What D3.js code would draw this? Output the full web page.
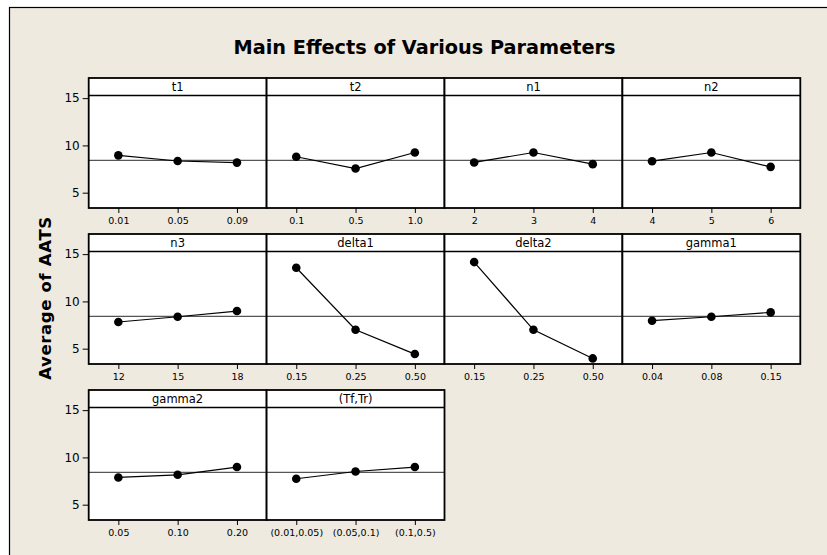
<!DOCTYPE html>
<html>
<head>
<meta charset="utf-8">
<script src="https://cdn.jsdelivr.net/npm/d3@7"></script>
<style>
  html, body { margin: 0; padding: 0; background: #fff; }
  svg { display: block; }
</style>
</head>
<body>
<div id="chart"></div>
<script>
// ---- data ----
const factors = ['t1', 't2', 'n1', 'n2', 'n3', 'delta1', 'delta2', 'gamma1', 'gamma2', '(Tf,Tr)'];

const levels = [
  ['0.01', '0.05', '0.09'],
  ['0.1', '0.5', '1.0'],
  ['2', '3', '4'],
  ['4', '5', '6'],
  ['12', '15', '18'],
  ['0.15', '0.25', '0.50'],
  ['0.15', '0.25', '0.50'],
  ['0.04', '0.08', '0.15'],
  ['0.05', '0.10', '0.20'],
  ['(0.01,0.05)', '(0.05,0.1)', '(0.1,0.5)']
];

const means = [
  [8.95, 8.35, 8.18],
  [8.80, 7.55, 9.25],
  [8.20, 9.25, 8.02],
  [8.33, 9.25, 7.73],
  [7.82, 8.38, 8.98],
  [13.56, 7.00, 4.43],
  [14.16, 7.00, 3.97],
  [7.96, 8.38, 8.84],
  [7.88, 8.16, 8.98],
  [7.74, 8.51, 8.98]
];

const grandMean = 8.42;
const yTicks = [5, 10, 15];

// ---- layout ----
const width = 827, height = 555;
const cols = 4;
const panelW = 177.9, panelH = 130, stripH = 17.5;
const left0 = 88.7, rowTops = [78, 234, 390];
const font = 'DejaVu Sans, Verdana, sans-serif';

const svg = d3.select('#chart')
  .append('svg')
  .attr('width', width)
  .attr('height', height);

// background frame
svg.append('rect')
  .attr('x', 9.5).attr('y', 7.5)
  .attr('width', width).attr('height', height)
  .attr('fill', '#EEEAE0')
  .attr('stroke', '#000')
  .attr('stroke-width', 1.2);

// title
svg.append('text')
  .attr('x', 424.5)
  .attr('y', 54)
  .attr('text-anchor', 'middle')
  .attr('font-family', font)
  .attr('font-weight', 'bold')
  .attr('font-size', 19.3)
  .attr('fill', '#000')
  .text('Main Effects of Various Parameters');

// y axis label
svg.append('text')
  .attr('transform', 'translate(51,298) rotate(-90)')
  .attr('text-anchor', 'middle')
  .attr('font-family', font)
  .attr('font-weight', 'bold')
  .attr('font-size', 16.5)
  .attr('letter-spacing', '0.04em')
  .attr('fill', '#000')
  .text('Average of AATS');

const y = d3.scaleLinear()
  .domain([3.38, 17.13])
  .range([panelH, 0]);

factors.forEach((name, i) => {
  const col = i % cols;
  const row = Math.floor(i / cols);
  const px = left0 + col * panelW;
  const py = rowTops[row];

  const x = d3.scalePoint()
    .domain(levels[i])
    .range([0, panelW])
    .padding(0.5);

  const g = svg.append('g')
    .attr('transform', `translate(${px},${py})`);

  g.append('rect')
    .attr('width', panelW).attr('height', panelH)
    .attr('fill', '#fff');

  // y axis only on first column
  if (col === 0) {
    const ya = g.append('g')
      .call(d3.axisLeft(y).tickValues(yTicks).tickSize(6).tickPadding(3));
    ya.select('.domain').remove();
    ya.selectAll('line').attr('stroke', '#000');
    ya.selectAll('text')
      .attr('font-family', font)
      .attr('font-size', 12)
      .attr('fill', '#000');
  }

  // x axis
  const xa = g.append('g')
    .attr('transform', `translate(0,${panelH})`)
    .call(d3.axisBottom(x).tickSize(5).tickPadding(4));
  xa.select('.domain').remove();
  xa.selectAll('line').attr('stroke', '#000');
  xa.selectAll('text')
    .attr('font-family', font)
    .attr('font-size', 9.5)
    .attr('fill', '#000');

  // reference line (grand mean)
  g.append('line')
    .attr('x1', 0).attr('x2', panelW)
    .attr('y1', y(grandMean)).attr('y2', y(grandMean))
    .attr('stroke', '#555')
    .attr('stroke-width', 1.2);

  const pts = levels[i].map((lv, j) => [x(lv), y(means[i][j])]);

  g.append('path')
    .attr('d', d3.line()(pts))
    .attr('fill', 'none')
    .attr('stroke', '#000')
    .attr('stroke-width', 1.2);

  g.selectAll('circle')
    .data(pts)
    .join('circle')
    .attr('cx', d => d[0])
    .attr('cy', d => d[1])
    .attr('r', 4.3)
    .attr('fill', '#000');

  // strip
  g.append('line')
    .attr('x1', 0).attr('x2', panelW)
    .attr('y1', stripH).attr('y2', stripH)
    .attr('stroke', '#000')
    .attr('stroke-width', 1.5);
  g.append('text')
    .attr('x', panelW / 2)
    .attr('y', stripH - 4.5)
    .attr('text-anchor', 'middle')
    .attr('font-family', font)
    .attr('font-size', 11.5)
    .attr('fill', '#000')
    .text(name);

  // panel border
  g.append('rect')
    .attr('width', panelW).attr('height', panelH)
    .attr('fill', 'none')
    .attr('stroke', '#000')
    .attr('stroke-width', 1.8);
});
</script>
</body>
</html>
